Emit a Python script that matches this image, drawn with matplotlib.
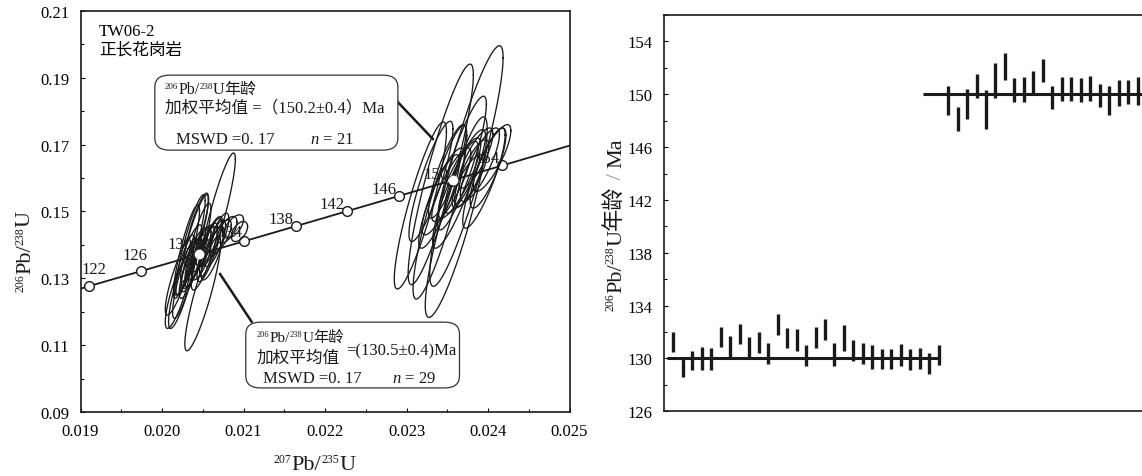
import numpy as np
import matplotlib.pyplot as plt
from matplotlib.patches import FancyBboxPatch
from matplotlib.ticker import FixedLocator, MultipleLocator
from matplotlib.transforms import IdentityTransform

plt.rcParams['font.family'] = ['Liberation Serif', 'DejaVu Serif', 'Noto Sans CJK SC']
plt.rcParams['mathtext.fontset'] = 'custom'
plt.rcParams['mathtext.rm'] = 'Liberation Serif'
plt.rcParams['mathtext.it'] = 'Liberation Serif:italic'

# concordia: age marks (Ma) and their ratio coordinates
conc_ages = [122, 126, 130, 134, 138, 142, 146, 150, 154]
conc_x = [0.019106, 0.019738, 0.020371, 0.021005, 0.021638, 0.022272, 0.022907, 0.023542, 0.024177]
conc_y = [0.12767, 0.13212, 0.13660, 0.14107, 0.14558, 0.15010, 0.15464, 0.15920, 0.16377]
conc_end_x = [0.0190, 0.0250]
conc_end_y = [0.1269, 0.1697]
# where each age label sits relative to its mark (pixels)
label_dx = [5, -6, -12, -14, -15, -15, -15, -15, -15]
label_dy = [17, 16, 12, 9, 7, 7, 7, 7, 7]

# group 1 analyses (~130 Ma): centre, half-extent and correlation of each error ellipse
a_cx = [0.02068, 0.02035, 0.02040, 0.02030, 0.02042, 0.02025, 0.02020, 0.02028, 0.02022,
        0.02050, 0.02080, 0.02088, 0.02072, 0.02095, 0.02045, 0.02050, 0.02040, 0.02055,
        0.02060, 0.02038, 0.02048, 0.02065, 0.02052, 0.02035, 0.02058, 0.02070, 0.02044,
        0.02032, 0.02062]
a_cy = [0.1490, 0.1400, 0.1420, 0.1380, 0.1445, 0.1280, 0.1260, 0.1300, 0.1310,
        0.1255, 0.1445, 0.1455, 0.1425, 0.1440, 0.1375, 0.1390, 0.1360, 0.1395,
        0.1410, 0.1345, 0.1355, 0.1405, 0.1365, 0.1330, 0.1385, 0.1430, 0.1400,
        0.1355, 0.1375]
a_sx = [0.00022, 0.00018, 0.00017, 0.00016, 0.00015, 0.00017, 0.00016, 0.00015, 0.00018,
        0.00022, 0.00012, 0.00012, 0.00013, 0.00010, 0.00015, 0.00014, 0.00016, 0.00013,
        0.00014, 0.00015, 0.00012, 0.00013, 0.00016, 0.00014, 0.00015, 0.00012, 0.00016,
        0.00017, 0.00014]
a_sy = [0.0185, 0.0150, 0.0130, 0.0140, 0.0110, 0.0130, 0.0110, 0.0120, 0.0120,
        0.0172, 0.0040, 0.0035, 0.0050, 0.0030, 0.0080, 0.0070, 0.0090, 0.0060,
        0.0075, 0.0085, 0.0060, 0.0070, 0.0100, 0.0090, 0.0095, 0.0065, 0.0125,
        0.0105, 0.0080]
a_rho = [0.90, 0.88, 0.88, 0.87, 0.85, 0.85, 0.83, 0.85, 0.86,
         0.88, 0.60, 0.60, 0.70, 0.50, 0.80, 0.80, 0.80, 0.75,
         0.80, 0.82, 0.75, 0.78, 0.84, 0.82, 0.83, 0.75, 0.86,
         0.85, 0.80]

# group 2 analyses (~150 Ma)
b_cx = [0.023735, 0.02342, 0.02361, 0.02317, 0.02341, 0.02365, 0.02355, 0.02372, 0.02380,
        0.02345, 0.02390, 0.02400, 0.02385, 0.02360, 0.02340, 0.02375, 0.02395, 0.02350,
        0.02330, 0.02405, 0.02368]
b_cy = [0.1636, 0.1611, 0.1483, 0.1518, 0.1498, 0.1600, 0.1580, 0.1620, 0.1615,
        0.1560, 0.1640, 0.1630, 0.1660, 0.1550, 0.1530, 0.1590, 0.1600, 0.1620,
        0.1590, 0.1660, 0.1645]
b_sx = [0.00045, 0.00040, 0.00038, 0.00032, 0.00033, 0.00026, 0.00024, 0.00025, 0.00021,
        0.00026, 0.00024, 0.00022, 0.00021, 0.00028, 0.00025, 0.00019, 0.00026, 0.00023,
        0.00027, 0.00023, 0.00030]
b_sy = [0.0360, 0.0330, 0.0300, 0.0250, 0.0260, 0.0120, 0.0110, 0.0125, 0.0100,
        0.0130, 0.0110, 0.0120, 0.0090, 0.0160, 0.0140, 0.0080, 0.0150, 0.0140,
        0.0180, 0.0100, 0.0200]
b_rho = [0.90, 0.90, 0.88, 0.88, 0.88, 0.85, 0.85, 0.85, 0.80,
         0.85, 0.82, 0.82, 0.80, 0.87, 0.86, 0.80, 0.86, 0.85,
         0.87, 0.82, 0.88]

# weighted means
mean_x = [0.02045, 0.02357]
mean_y = [0.13715, 0.15942]
mean_age = [130.5, 150.2]
mean_err = [0.4, 0.4]
mswd = ['0. 17', '0. 17']
n_spots = [29, 21]

# 206Pb/238U ages of single spots (error bar ends, Ma)
lo_min = [130.5, 128.6, 129.1, 129.1, 129.1, 130.9, 130.1, 131.1, 130.1, 130.4,
          129.6, 131.8, 130.8, 130.6, 129.4, 130.8, 131.4, 129.4, 130.6, 129.8,
          129.6, 129.2, 129.2, 129.2, 129.4, 129.1, 129.2, 128.8, 129.5]
lo_max = [132.0, 130.1, 130.6, 130.9, 130.8, 132.4, 131.7, 132.6, 131.6, 132.0,
          131.2, 133.4, 132.3, 132.2, 131.0, 132.4, 133.0, 131.2, 132.5, 131.4,
          131.2, 131.0, 130.7, 130.7, 131.1, 130.7, 130.8, 130.4, 131.0]
hi_min = [148.4, 147.2, 148.1, 149.7, 147.4, 149.7, 151.1, 149.4, 149.4, 150.0,
          150.9, 148.9, 149.5, 149.5, 149.4, 149.5, 149.0, 148.4, 149.1, 149.3,
          149.2]
hi_max = [150.6, 149.0, 150.4, 151.5, 150.3, 152.4, 153.1, 151.2, 151.3, 151.8,
          152.7, 150.6, 151.3, 151.3, 151.2, 151.4, 150.8, 150.6, 151.1, 151.1,
          151.3]
mean_line = [130.0, 150.0]

fig = plt.figure(figsize=(11.42, 4.77), dpi=100)
ax1 = fig.add_axes([0.0705, 0.1342, 0.4282, 0.8407])
ax2 = fig.add_axes([0.5814, 0.1356, 0.4230, 0.8308])

ink = '#1a1a1a'
renderer = fig.canvas.get_renderer()


def rich(x, y, parts, rot=0):
    # lay text runs end to end; x, y are pixels from the top-left, y on the baseline
    y = fig.bbox.height - y
    for run in parts:
        s, size, rise = run[:3]
        col = run[3] if len(run) > 3 else ink
        dx, dy = (0, rise) if rot == 0 else (-rise, 0)
        tt = fig.text(x + dx, y + dy, s, fontsize=size, color=col, ha='left',
                      va='baseline', rotation=rot, rotation_mode='anchor',
                      transform=IdentityTransform(), zorder=6)
        bb = tt.get_window_extent(renderer)
        if rot == 0:
            x += bb.width
        else:
            y += bb.height


def ratio_label(size, sup, rise, top='206', bot='238'):
    return [(top, sup, rise), ('Pb/', size, 0), (bot, sup, rise), ('U', size, 0)]


# --- concordia diagram ---
line_x = [conc_end_x[0]] + conc_x + [conc_end_x[1]]
line_y = [conc_end_y[0]] + conc_y + [conc_end_y[1]]
ax1.plot(line_x, line_y, color=ink, lw=1.3, zorder=1)
ax1.plot(conc_x, conc_y, 'o', ms=7, mfc='white', mec=ink, mew=1.0, zorder=1.5)
for age, x, y, dx, dy in zip(conc_ages, conc_x, conc_y, label_dx, label_dy):
    ax1.annotate(str(age), (x, y), xytext=(dx, dy), textcoords='offset pixels',
                 ha='center', va='center', fontsize=12, color=ink, zorder=1.4)

t = np.linspace(0, 2 * np.pi, 160)
for cx, cy, sx, sy, r in list(zip(a_cx, a_cy, a_sx, a_sy, a_rho)) + list(zip(b_cx, b_cy, b_sx, b_sy, b_rho)):
    ex = cx + sx * np.cos(t)
    ey = cy + sy * (r * np.cos(t) + np.sqrt(1 - r * r) * np.sin(t))
    ax1.plot(ex, ey, color=ink, lw=0.95, zorder=2)

ax1.plot(mean_x, mean_y, 'o', ms=6, mfc='white', mec='white', zorder=4)

ax1.set_xlim(0.019, 0.025)
ax1.set_ylim(0.09, 0.21)
xt = [0.019, 0.020, 0.021, 0.022, 0.023, 0.024, 0.025]
yt = [0.09, 0.11, 0.13, 0.15, 0.17, 0.19, 0.21]
ax1.xaxis.set_major_locator(FixedLocator(xt))
ax1.xaxis.set_minor_locator(MultipleLocator(0.0005))
ax1.yaxis.set_major_locator(FixedLocator(yt))
ax1.yaxis.set_minor_locator(MultipleLocator(0.01))
ax1.set_xticklabels(['%.3f' % v for v in xt])
ax1.set_yticklabels(['%.2f' % v for v in yt])
ax1.tick_params(which='both', direction='in', length=3, width=0.8, labelsize=12,
                top=False, right=False, pad=8)
ax1.tick_params(which='minor', length=2)
for s in ax1.spines.values():
    s.set_linewidth(1.2)
    s.set_color(ink)

ax1.text(0.038, 0.95, 'TW06-2', transform=ax1.transAxes, fontsize=12, va='center')
ax1.text(0.038, 0.903, '正长花岗岩', transform=ax1.transAxes, fontsize=12, va='center')

# summary boxes with leader lines
box_kw = dict(boxstyle='round,pad=0,rounding_size=0.03', fc='white', ec='#333333',
              lw=0.9, transform=ax1.transAxes, zorder=5)
ax1.add_patch(FancyBboxPatch((0.152, 0.653), 0.497, 0.187, **box_kw))
ax1.add_patch(FancyBboxPatch((0.338, 0.060), 0.437, 0.164, **box_kw))
ax1.plot([0.022892, 0.023323], [0.18276, 0.1717], color=ink, lw=1.8, zorder=4.5)
ax1.plot([0.021099, 0.020712], [0.11702, 0.13129], color=ink, lw=1.8, zorder=4.5)

rich(165, 94, ratio_label(11.5, 6.5, 5) + [('年龄', 11.5, 0)])
rich(165, 112, [('加权平均值 =（%.1f±%.1f）Ma' % (mean_age[1], mean_err[1]), 12, 0)])
rich(176, 144, [('MSWD =%s' % mswd[1], 12, 0)])
rich(310, 144, [('$n$ = %d' % n_spots[1], 12, 0)])

rich(257, 342, ratio_label(11, 6, 5) + [('年龄', 11, 0)])
rich(257, 363, [('加权平均值', 12, 0)])
rich(346, 355, [('=(%.1f±%.1f)Ma' % (mean_age[0], mean_err[0]), 12, 0)])
rich(263, 383, [('MSWD =%s' % mswd[0], 12, 0)])
rich(392, 383, [('$n$ = %d' % n_spots[0], 12, 0)])

# axis titles
rich(30, 292, ratio_label(16, 8.5, 7), rot=90)
rich(274, 470, ratio_label(16, 8.5, 7, '207', '235'))

# --- spot ages ---
n_lo = len(lo_min)
xs_lo = np.arange(n_lo)
xs_hi = np.arange(n_lo, n_lo + len(hi_min))
ax2.vlines(xs_lo, lo_min, lo_max, color=ink, lw=2.4)
ax2.vlines(xs_hi, hi_min, hi_max, color=ink, lw=2.4)
ax2.hlines(mean_line[0], -0.7, xs_lo[-1], color=ink, lw=2.2)
ax2.hlines(mean_line[1], n_lo - 2.7, xs_hi[-1] + 2, color=ink, lw=2.2)

ax2.set_xlim(-1, 50)
ax2.set_ylim(126, 156)
ax2.set_xticks([])
ax2.yaxis.set_major_locator(FixedLocator(list(range(126, 155, 4))))
ax2.yaxis.set_minor_locator(MultipleLocator(2))
ax2.tick_params(which='both', direction='in', length=3, width=0.8, labelsize=12, pad=8)
ax2.tick_params(which='minor', length=2)
for s in ax2.spines.values():
    s.set_linewidth(1.2)
    s.set_color(ink)

rich(621, 311, ratio_label(16, 8.5, 7) + [('年龄', 16, 0), (' / ', 16, 0, '#999999'),
                                          ('Ma', 16, 0)], rot=90)

fig.savefig('out.png', dpi=100)
